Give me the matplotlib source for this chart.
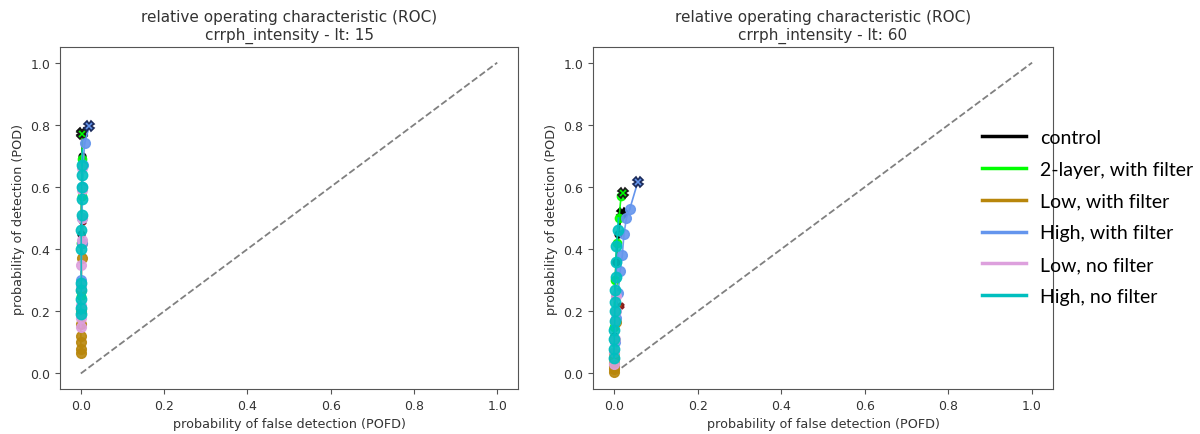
import matplotlib
matplotlib.use("Agg")
import matplotlib.pyplot as plt
from matplotlib.lines import Line2D

# series names / colours
names = ["control", "2-layer, with filter", "Low, with filter",
         "High, with filter", "Low, no filter", "High, no filter"]
colors = ["black", "lime", "darkgoldenrod", "cornflowerblue", "plum", "c"]
edge_colors = ["black", "#1a1a1a", "#8b1a1a", "#1b2a5a", "#6a3a6a", "#0a4a4a"]
end_sizes = [7, 7, 4, 7, 0, 0]   # size of the closing X marker
dot_sizes = [5, 6, 7, 7, 7, 7.5]

# lead time 15 (POFD, POD)
pofd_15 = [
    [0.000, 0.001, 0.002, 0.003, 0.004],
    [0.000, 0.001, 0.002, 0.003, 0.004],
    [0.000, 0.000, 0.000, 0.000, 0.000, 0.001, 0.001, 0.002, 0.003, 0.005],
    [0.001, 0.002, 0.003, 0.004, 0.006, 0.009, 0.020],
    [0.000, 0.000, 0.001, 0.001, 0.001, 0.002, 0.002, 0.003, 0.003, 0.004],
    [0.000, 0.000, 0.000, 0.001, 0.001, 0.001, 0.001, 0.002, 0.002, 0.002, 0.003, 0.003, 0.004],
]
pod_15 = [
    [0.28, 0.45, 0.60, 0.70, 0.775],
    [0.25, 0.42, 0.57, 0.69, 0.77],
    [0.065, 0.08, 0.10, 0.12, 0.16, 0.20, 0.27, 0.37, 0.42, 0.487],
    [0.30, 0.42, 0.50, 0.60, 0.67, 0.74, 0.795],
    [0.15, 0.18, 0.22, 0.28, 0.35, 0.43, 0.50, 0.59, 0.66, 0.71],
    [0.19, 0.21, 0.24, 0.27, 0.29, 0.40, 0.46, 0.51, 0.56, 0.60, 0.64, 0.67, 0.72],
]

# lead time 60 (POFD, POD)
pofd_60 = [
    [0.000, 0.002, 0.005, 0.010, 0.019],
    [0.000, 0.003, 0.007, 0.012, 0.017, 0.022],
    [0.000, 0.000, 0.000, 0.000, 0.001, 0.001, 0.004, 0.017],
    [0.002, 0.005, 0.010, 0.015, 0.020, 0.024, 0.030, 0.038, 0.057],
    [0.000, 0.001, 0.002, 0.003, 0.004, 0.005, 0.006],
    [0.000, 0.000, 0.001, 0.001, 0.002, 0.002, 0.003, 0.003, 0.004, 0.005, 0.006, 0.009, 0.011],
]
pod_60 = [
    [0.12, 0.25, 0.36, 0.45, 0.516],
    [0.15, 0.30, 0.42, 0.50, 0.57, 0.58],
    [0.005, 0.015, 0.025, 0.035, 0.05, 0.065, 0.165, 0.216],
    [0.10, 0.18, 0.26, 0.33, 0.38, 0.45, 0.50, 0.53, 0.616],
    [0.03, 0.07, 0.11, 0.17, 0.20, 0.25, 0.30],
    [0.05, 0.08, 0.11, 0.14, 0.17, 0.20, 0.23, 0.27, 0.31, 0.36, 0.41, 0.46, 0.50],
]

lead_times = [15, 60]
panels = [(pofd_15, pod_15), (pofd_60, pod_60)]

fig = plt.figure(figsize=(12, 4.35), dpi=100)
axes = [fig.add_axes([0.050, 0.1034, 0.3817, 0.786]),
        fig.add_axes([0.4942, 0.1034, 0.3833, 0.786])]

for ax, lt, (pofd, pod) in zip(axes, lead_times, panels):
    ax.plot([0, 1], [0, 1], "--", color="gray", lw=1.3)
    for i in range(len(names)):
        x, y = pofd[i], pod[i]
        ax.plot(x[:-1], y[:-1], "-o", color=colors[i], ms=dot_sizes[i], lw=1.2,
                alpha=0.9)
        ax.plot(x[-2:], y[-2:], "-", color=colors[i], lw=1.2)
        if end_sizes[i]:
            ax.plot(x[-1], y[-1], "X", color=colors[i], ms=end_sizes[i],
                    mec=edge_colors[i], mew=1.2)
    ax.set_title("relative operating characteristic (ROC)\ncrrph_intensity - lt: %d" % lt,
                 fontsize=11, color="#333333")
    ax.set_xlabel("probability of false detection (POFD)", fontsize=9.2, color="#333333")
    ax.set_ylabel("probability of detection (POD)", fontsize=9.2, color="#333333")
    ax.set_xlim(-0.05, 1.05)
    ax.set_ylim(-0.05, 1.05)
    ax.set_xticks([0, 0.2, 0.4, 0.6, 0.8, 1.0])
    ax.set_yticks([0, 0.2, 0.4, 0.6, 0.8, 1.0])
    ax.tick_params(labelsize=9, labelcolor="#333333", color="#555555")
    for s in ax.spines.values():
        s.set_color("#555555")

handles = [Line2D([], [], color=c, lw=2.5) for c in colors]
fig.legend(handles, names, loc="upper left", bbox_to_anchor=(0.818, 0.701),
           frameon=False, prop={"family": "Lato", "size": 14},
           handlelength=2.3, handletextpad=0.7, labelspacing=0.76,
           borderpad=0, borderaxespad=0)

fig.savefig("out.png", dpi=100)
